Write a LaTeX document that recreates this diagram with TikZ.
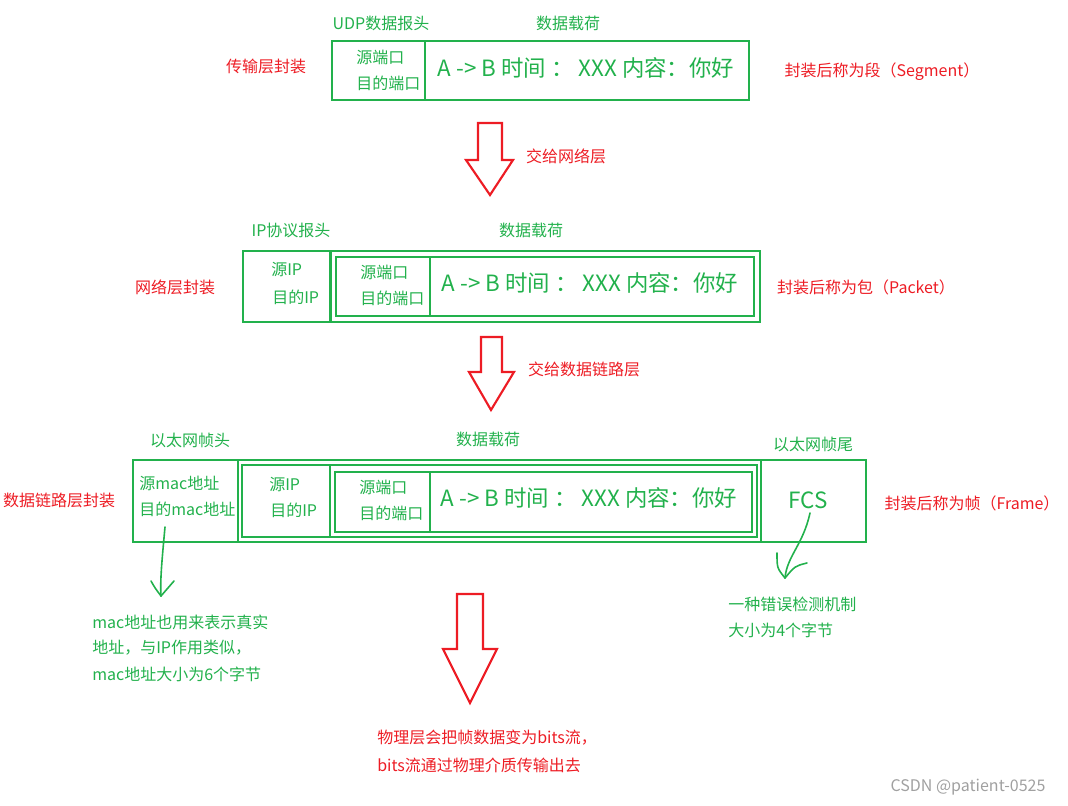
\documentclass[tikz,border=0pt]{standalone}
\usepackage{fontspec}
\setmainfont{Noto Sans CJK SC}
\usetikzlibrary{fit}
\definecolor{pg}{HTML}{22B14C}
\definecolor{pr}{HTML}{ED1C24}
\definecolor{wm}{HTML}{A0A0A0}
\begin{document}
\begin{tikzpicture}[x=0.75pt,y=-0.75pt,
 box/.style={draw=pg, line width=1.7pt, inner sep=0pt},
 gt/.style={text=pg, font=\fontsize{12}{14}\selectfont, inner sep=0pt},
 rt/.style={text=pr, font=\fontsize{12}{14}\selectfont, inner sep=0pt},
 pay/.style={text=pg, font=\fontsize{16.8}{19}\selectfont, inner sep=0pt},
 blk/.style={draw=pr, line width=1.6pt, fill=white, line join=miter},
 hand/.style={draw=pg, line width=1.2pt, line cap=round, line join=round}]
\useasboundingbox (0,0) rectangle (1068,806);

% ---------- Row 1: transport layer ----------
\node[box, fit={(332,41)(425,100)}] (udp1) {};
\node[box, fit={(425,41)(749,100)}] (pay1) {};
\node[gt, anchor=west] (s1) at (356,57) {源端口};
\node[gt, anchor=west] (d1) at (356,83) {目的端口};
\node[pay] (p1) at (586,68) {A -> B 时间 ： XXX 内容：你好};
\node[gt] (h1) at (381,23) {UDP数据报头};
\node[gt] (l1) at (568,23) {数据载荷};
\node[rt] (t1) at (266,66) {传输层封装};
\node[rt] (n1) at (882,72) {封装后称为段（Segment）};

\draw[blk] (478,123) -- (502,123) -- (502,160) -- (513,160) -- (490,195) -- (466,160) -- (478,160) -- cycle;
\node[rt] (a1) at (566,156) {交给网络层};

% ---------- Row 2: network layer ----------
\node[box, fit={(243,251)(330,322)}] (ip2) {};
\node[box, fit={(331,251)(760,322)}] (ipp2) {};
\node[box, fit={(336,257)(430,316)}] (udp2) {};
\node[box, fit={(430,257)(754,316)}] (pay2) {};
\node[gt, anchor=west] (si2) at (271,270) {源IP};
\node[gt, anchor=west] (di2) at (272,297) {目的IP};
\node[gt, anchor=west] (s2) at (360,272) {源端口};
\node[gt, anchor=west] (d2) at (360,298) {目的端口};
\node[pay] (p2) at (590,283) {A -> B 时间 ： XXX 内容：你好};
\node[gt] (h2) at (291,230) {IP协议报头};
\node[gt] (l2) at (531,230) {数据载荷};
\node[rt] (t2) at (175,287) {网络层封装};
\node[rt] (n2) at (866,287) {封装后称为包（Packet）};

\draw[blk] (481,337) -- (502,337) -- (502,372) -- (514,372) -- (491,410) -- (469,372) -- (481,372) -- cycle;
\node[rt] (a2) at (584,369) {交给数据链路层};

% ---------- Row 3: data link layer ----------
\node[box, fit={(133,460)(238,542)}] (eth3) {};
\node[box, fit={(238,460)(761,542)}] (ethp3) {};
\node[box, fit={(761,460)(866,542)}] (fcs3) {};
\node[box, fit={(242,465)(330,537)}] (ip3) {};
\node[box, fit={(330,465)(757,537)}] (ipp3) {};
\node[box, fit={(335,472)(430,532)}] (udp3) {};
\node[box, fit={(430,472)(752,532)}] (pay3) {};
\node[gt, anchor=west] (sm3) at (139,483) {源mac地址};
\node[gt, anchor=west] (dm3) at (139,509) {目的mac地址};
\node[gt, anchor=west] (si3) at (269,485) {源IP};
\node[gt, anchor=west] (di3) at (270,510) {目的IP};
\node[gt, anchor=west] (s3) at (359,487) {源端口};
\node[gt, anchor=west] (d3) at (359,513) {目的端口};
\node[pay] (p3) at (589,498) {A -> B 时间 ： XXX 内容：你好};
\node[pay] (f3) at (808,500) {FCS};
\node[gt] (h3) at (190,440) {以太网帧头};
\node[gt] (l3) at (488,439) {数据载荷};
\node[gt] (e3) at (813,444) {以太网帧尾};
\node[rt] (t3) at (59,500) {数据链路层封装};
\node[rt] (n3) at (972,503) {封装后称为帧（Frame）};

% hand-drawn arrows
\coordinate (lA) at (165,527);
\coordinate (lT) at (161,596);
\draw[hand] (lA) .. controls (162,560) and (160,580) .. (lT);
\draw[hand] (151,581) .. controls (155,588) .. (lT);
\draw[hand] (174,581) .. controls (168,588) .. (lT);

\coordinate (rA) at (810,513);
\coordinate (rT) at (785,578);
\draw[hand] (rA) .. controls (803,545) and (787,556) .. (rT);
\draw[hand] (777,553) .. controls (777,568) .. (rT);
\draw[hand] (807,563) .. controls (795,566) .. (rT);

% annotations
\node[gt, anchor=west] (m1) at (92,622) {mac地址也用来表示真实};
\node[gt, anchor=west] (m2) at (92,648) {地址，与IP作用类似，};
\node[gt, anchor=west] (m3) at (92,674) {mac地址大小为6个字节};
\node[gt, anchor=west] (c1) at (728,604) {一种错误检测机制};
\node[gt, anchor=west] (c2) at (728,630) {大小为4个字节};

% ---------- physical layer ----------
\draw[blk] (457,594) -- (483,594) -- (483,649) -- (497,649) -- (470,703) -- (443,649) -- (457,649) -- cycle;
\node[rt, anchor=west] (b1) at (377,738) {物理层会把帧数据变为bits流，};
\node[rt, anchor=west] (b2) at (377,765) {bits流通过物理介质传输出去};

\node[text=wm, font=\fontsize{12}{14}\selectfont, inner sep=0pt] (wmk) at (968,787) {CSDN @patient-0525};
\end{tikzpicture}
\end{document}
